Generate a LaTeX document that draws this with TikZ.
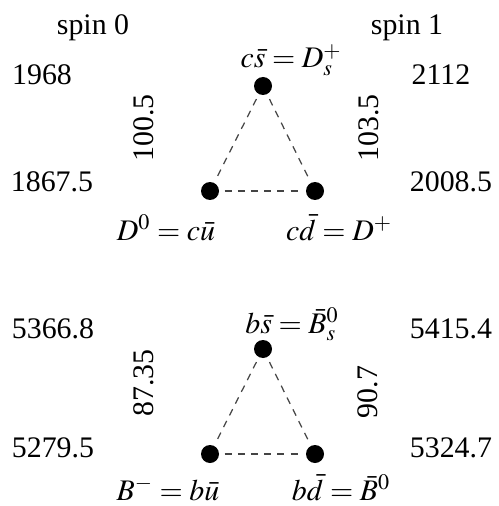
\documentclass[tikz,border=0pt]{standalone}
\usepackage{mathptmx}
\usepackage[no-math]{fontspec}
\setmainfont{Liberation Serif}
\usepackage{tikz}
\usetikzlibrary{positioning}
\definecolor{LineGry}{HTML}{444444}

\begin{document}
\begin{tikzpicture}[x=0.02cm, y=-0.02cm,
    meson/.style={circle, fill=black, inner sep=0pt, minimum size=0.36cm},
    link/.style={LineGry, line width=0.7pt, dash pattern=on 4pt off 3.5pt,
                 shorten <=3pt, shorten >=3pt},
    mass/.style={font=\fontsize{17}{20}\selectfont, anchor=base, inner sep=0pt},
    split/.style={font=\fontsize{17}{20}\selectfont, rotate=90, inner sep=0pt},
    qlab/.style={font=\fontsize{17}{20}\selectfont, anchor=base, inner sep=0pt}]
      \useasboundingbox (0,0) rectangle (498,506);

      % ── column heads ─────────────────────────────────────────────────────────
      \node[mass] (head0) at (93,35) {spin 0};
      \node[mass] (head1) at (407,35) {spin 1};

      % ── masses, spin 0 left / spin 1 right ──────────────────────────────────
      \foreach \nm/\x/\y/\v in {cs0/42/85/1968, cu0/52/192/1867.5,
                               bs0/53/338/5366.8, bu0/53/457/5279.5,
                               cs1/441/85/2112, cd1/451/192/2008.5,
                               bs1/451/338/5415.4, bd1/451/457/5324.7} {
        \node[mass] (m\nm) at (\x,\y) {\v};
      }

      % ── mass splittings ──────────────────────────────────────────────────────
      \foreach \nm/\x/\y/\v in {c0/144/128/100.5, c1/369/128/103.5,
                               b0/144/383/87.35, b1/368/392/90.7} {
        \node[split] (d\nm) at (\x,\y) {\v};
      }

      % ── charm triangle ───────────────────────────────────────────────────────
      \node[meson] (Ds) at (263,86)  {};
      \node[meson] (D0) at (210,191) {};
      \node[meson] (Dp) at (315,191) {};
      \draw[link] (Ds) -- (D0);
      \draw[link] (Ds) -- (Dp);
      \draw[link] (D0) -- (Dp);
      \node[qlab] (lDs) at (291,68)  {$c\bar{s}=D_s^{+}$};
      \node[qlab] (lD0) at (166,240) {$D^{0}=c\bar{u}$};
      \node[qlab] (lDp) at (339,240) {$c\bar{d}=D^{+}$};

      % ── bottom triangle ──────────────────────────────────────────────────────
      \node[meson] (Bs) at (263,349) {};
      \node[meson] (Bm) at (210,454) {};
      \node[meson] (B0) at (315,454) {};
      \draw[link] (Bs) -- (Bm);
      \draw[link] (Bs) -- (B0);
      \draw[link] (Bm) -- (B0);
      \node[qlab] (lBs) at (292,333) {$b\bar{s}=\bar{B}_s^{0}$};
      \node[qlab] (lBm) at (168,500) {$B^{-}=b\bar{u}$};
      \node[qlab] (lB0) at (341,500) {$b\bar{d}=\bar{B}^{0}$};
    \end{tikzpicture}
\end{document}
